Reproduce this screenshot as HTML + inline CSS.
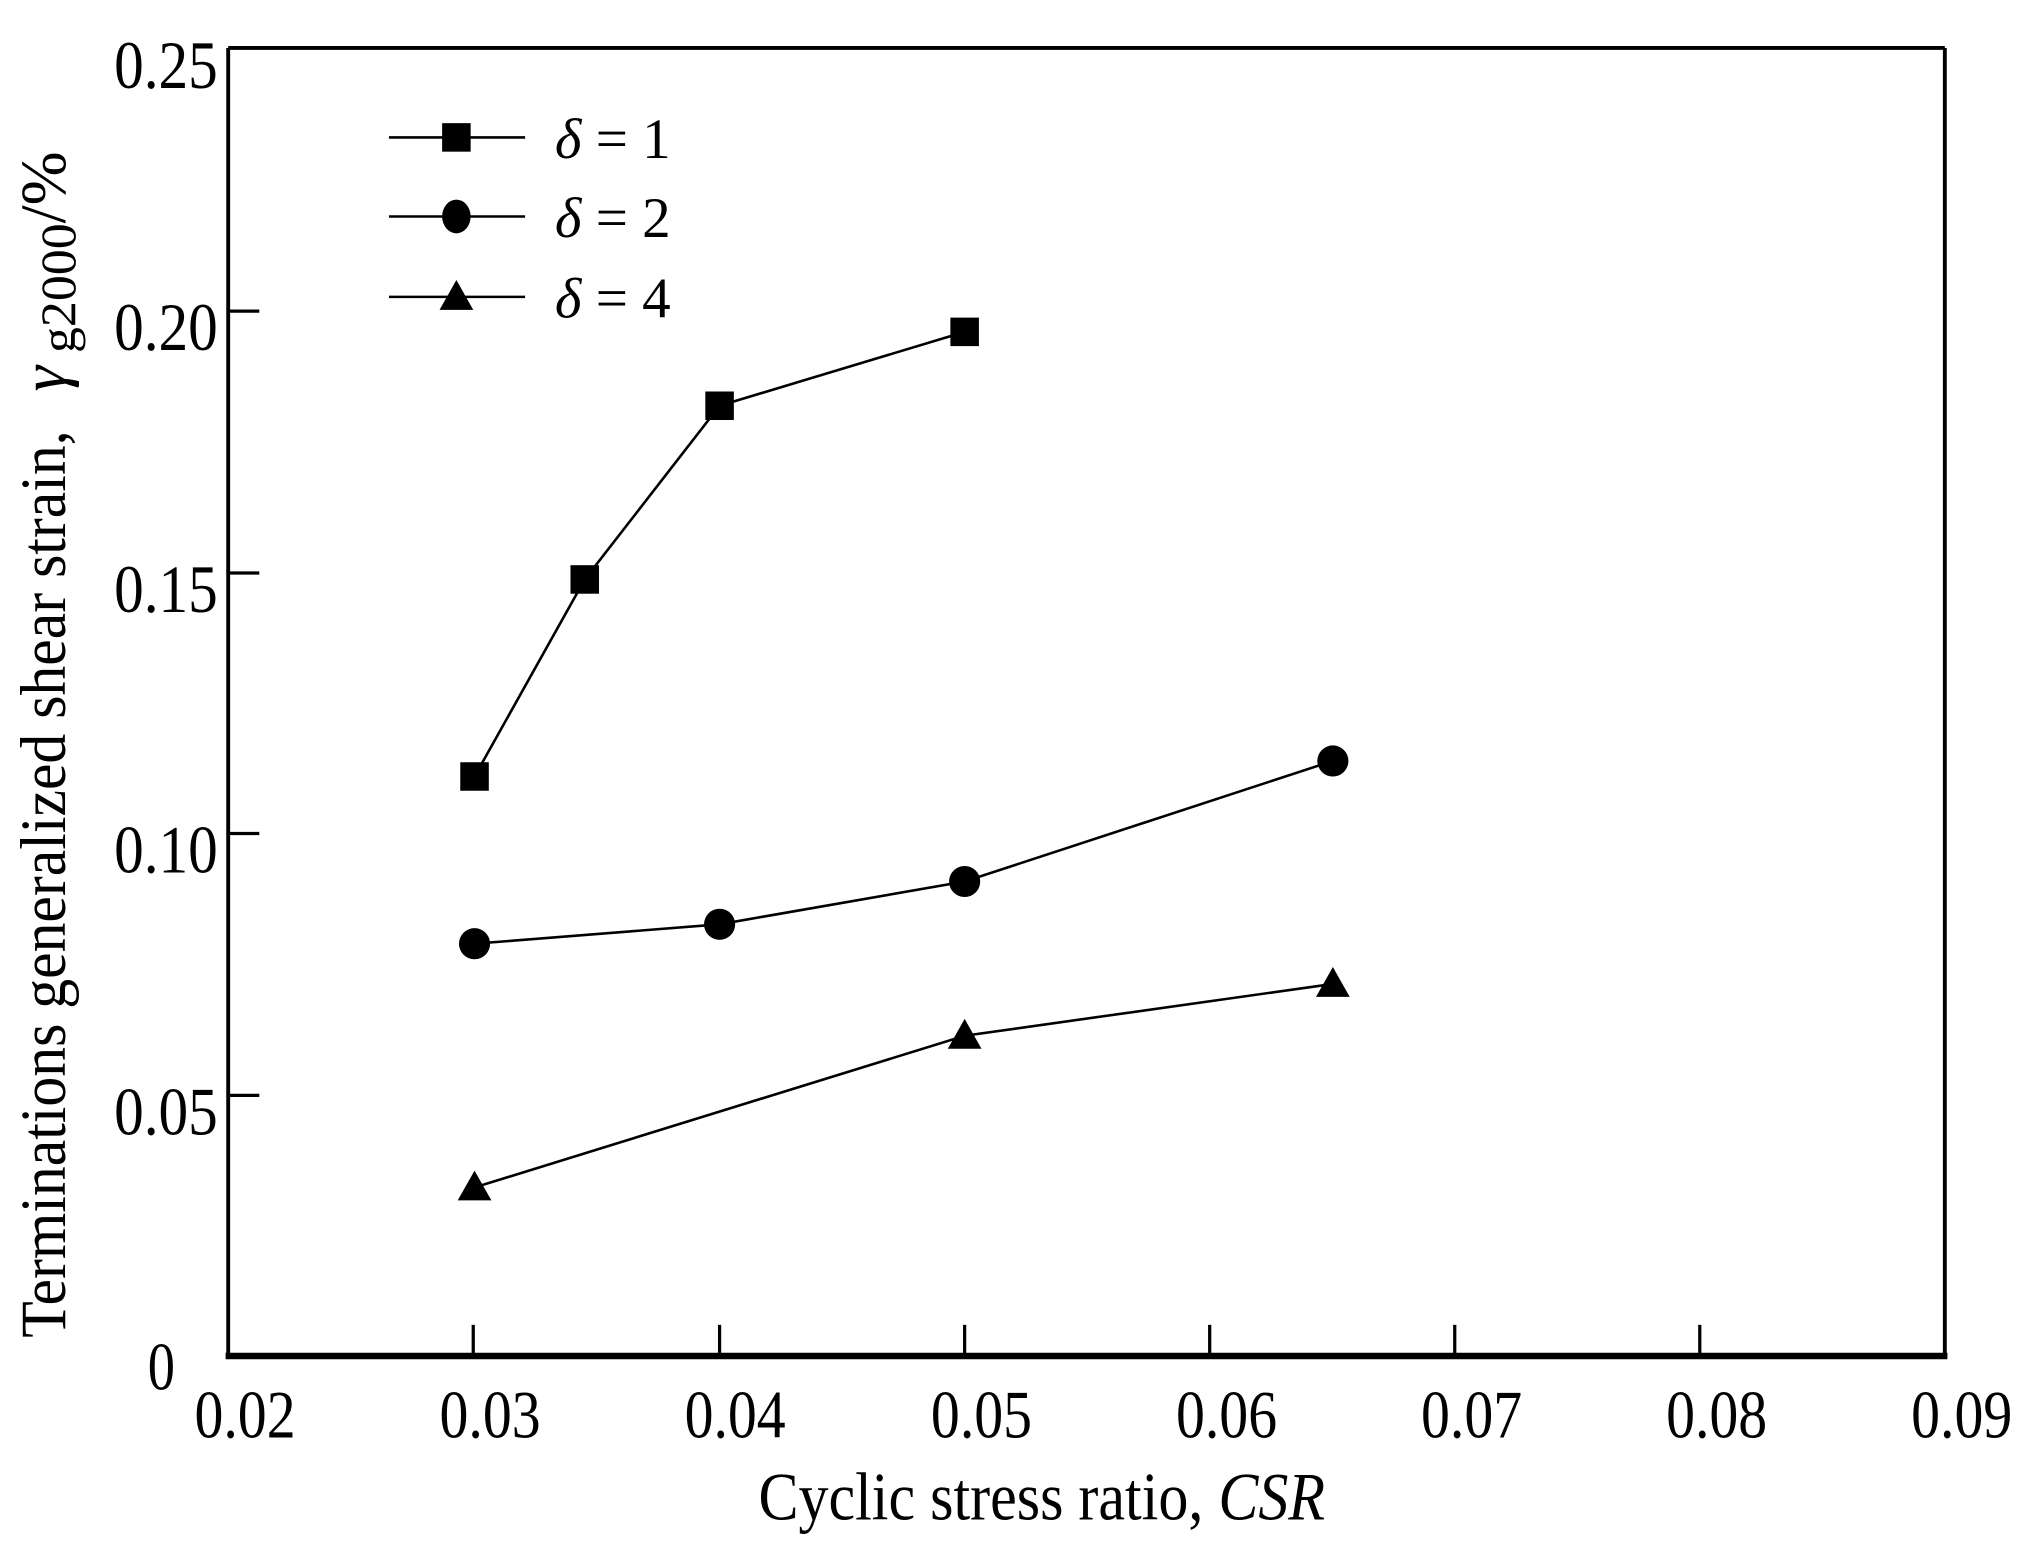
<!DOCTYPE html>
<html><head><meta charset="utf-8"><style>
html,body{margin:0;padding:0;background:#fff;}
svg{display:block;}
text{font-family:"Liberation Serif",serif;fill:#000;}
</style></head><body>
<svg width="2033" height="1553" viewBox="0 0 1568 1198" preserveAspectRatio="none" xmlns="http://www.w3.org/2000/svg">
<g stroke="#000" fill="none">
<line x1="176" y1="37" x2="1500" y2="37" stroke-width="3"/>
<line x1="176" y1="37" x2="176" y2="1048" stroke-width="3"/>
<line x1="1500" y1="37" x2="1500" y2="1048" stroke-width="3"/>
<line x1="174" y1="1046" x2="1502" y2="1046" stroke-width="5"/>
<g stroke-width="2.5">
<line x1="365" y1="1046" x2="365" y2="1022"/><line x1="555" y1="1046" x2="555" y2="1022"/>
<line x1="744" y1="1046" x2="744" y2="1022"/><line x1="933" y1="1046" x2="933" y2="1022"/>
<line x1="1122" y1="1046" x2="1122" y2="1022"/><line x1="1311" y1="1046" x2="1311" y2="1022"/>
<line x1="176" y1="240" x2="200" y2="240"/><line x1="176" y1="442" x2="200" y2="442"/>
<line x1="176" y1="643" x2="200" y2="643"/><line x1="176" y1="845" x2="200" y2="845"/>
</g>
<g stroke-width="2">
<polyline points="366,599 451,447 555,313 744,256"/>
<polyline points="366,728 555,713 744,680 1028,587"/>
<polyline points="366,916 744,799 1028,759"/>
<line x1="300" y1="106" x2="405" y2="106"/>
<line x1="300" y1="167" x2="405" y2="167"/>
<line x1="300" y1="229" x2="405" y2="229"/>
</g>
</g>
<g fill="#000">
<rect x="355" y="588" width="22" height="22"/><rect x="440" y="436" width="22" height="22"/>
<rect x="544" y="302" width="22" height="22"/><rect x="733" y="245" width="22" height="22"/>
<rect x="341" y="95" width="22" height="22"/>
<circle cx="366" cy="728" r="12"/><circle cx="555" cy="713" r="12"/>
<circle cx="744" cy="680" r="12"/><circle cx="1028" cy="587" r="12"/>
<ellipse cx="352" cy="167" rx="11" ry="13"/>
<polygon points="366,903 353,926 379,926"/><polygon points="744,786 731,809 757,809"/>
<polygon points="1028,746 1015,769 1041,769"/><polygon points="352,216 339,239 365,239"/>
</g>
<g font-size="52">
<text x="88" y="68" textLength="80" lengthAdjust="spacingAndGlyphs">0.25</text>
<text x="88" y="270" textLength="80" lengthAdjust="spacingAndGlyphs">0.20</text>
<text x="88" y="472" textLength="80" lengthAdjust="spacingAndGlyphs">0.15</text>
<text x="88" y="673" textLength="80" lengthAdjust="spacingAndGlyphs">0.10</text>
<text x="88" y="875" textLength="80" lengthAdjust="spacingAndGlyphs">0.05</text>
<text x="114" y="1072" textLength="21" lengthAdjust="spacingAndGlyphs">0</text>
</g>
<g font-size="52">
<text x="150" y="1109" textLength="78" lengthAdjust="spacingAndGlyphs">0.02</text>
<text x="339" y="1109" textLength="78" lengthAdjust="spacingAndGlyphs">0.03</text>
<text x="528" y="1109" textLength="78" lengthAdjust="spacingAndGlyphs">0.04</text>
<text x="718" y="1109" textLength="78" lengthAdjust="spacingAndGlyphs">0.05</text>
<text x="907" y="1109" textLength="78" lengthAdjust="spacingAndGlyphs">0.06</text>
<text x="1096" y="1109" textLength="78" lengthAdjust="spacingAndGlyphs">0.07</text>
<text x="1285" y="1109" textLength="78" lengthAdjust="spacingAndGlyphs">0.08</text>
<text x="1474" y="1109" textLength="78" lengthAdjust="spacingAndGlyphs">0.09</text>
<text x="585" y="1172" textLength="437" lengthAdjust="spacingAndGlyphs">Cyclic stress ratio, <tspan font-style="italic">CSR</tspan></text>
</g>
<g font-size="44">
<text x="428" y="122"><tspan font-style="italic">δ</tspan> = 1</text>
<text x="428" y="183"><tspan font-style="italic">δ</tspan> = 2</text>
<text x="428" y="245"><tspan font-style="italic">δ</tspan> = 4</text>
</g>
<text transform="translate(50,1032) rotate(-90)" font-size="50"><tspan textLength="700" lengthAdjust="spacingAndGlyphs">Terminations generalized shear strain,</tspan><tspan font-style="italic" font-family="Liberation Serif, serif" dx="30">γ</tspan><tspan font-size="38" dy="8" textLength="110" lengthAdjust="spacingAndGlyphs"> g2000</tspan><tspan dy="-8">/%</tspan></text>
</svg>
</body></html>
